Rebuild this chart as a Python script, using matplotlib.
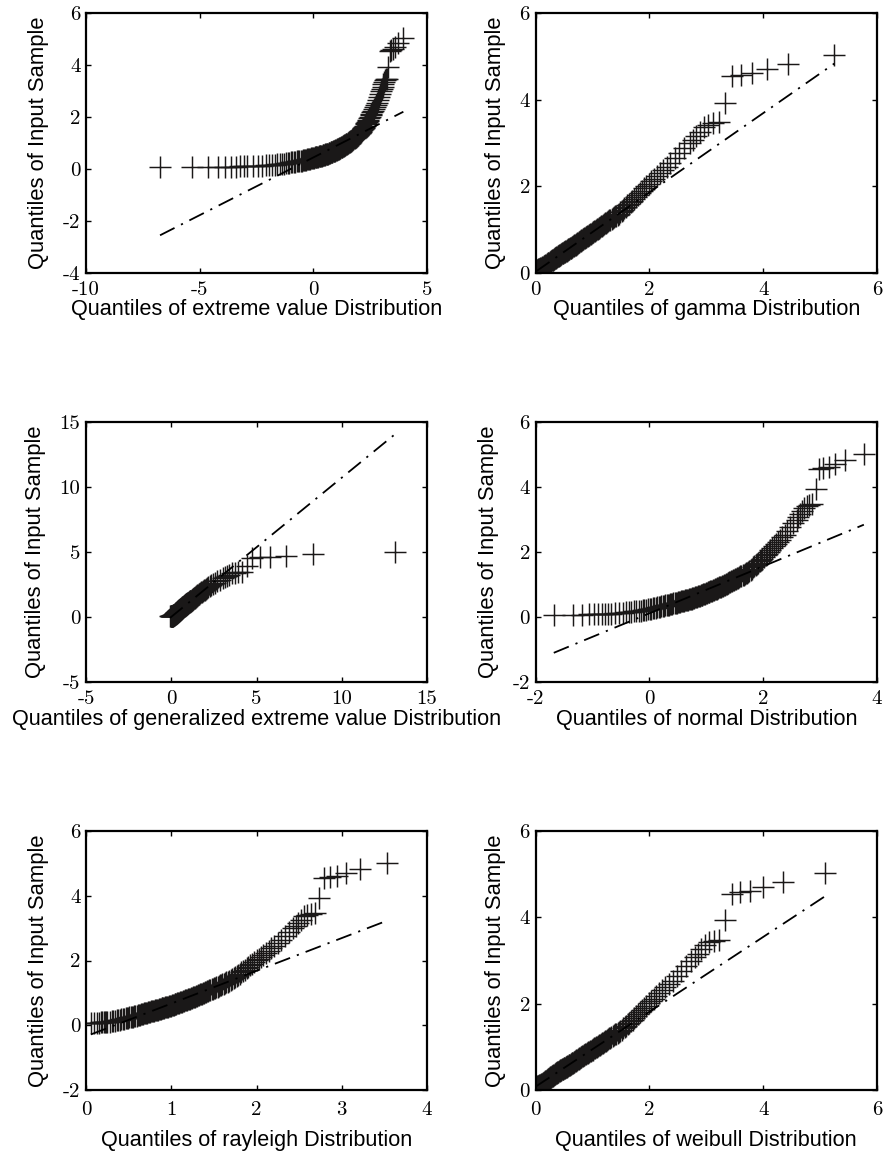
import numpy as np
import matplotlib
matplotlib.use('Agg')
import matplotlib.pyplot as plt

plt.rcParams['axes.unicode_minus'] = False

# rank (of 300 sorted values) of each plotted point
rank = list(range(1, 11)) + list(range(12, 287, 2)) + list(range(287, 301))

# sorted input sample
sample = [0.06, 0.07, 0.075, 0.08, 0.085, 0.09, 0.095, 0.10, 0.102, 0.105,
          0.112, 0.12, 0.13, 0.14, 0.15, 0.16, 0.17, 0.18, 0.19, 0.20,
          0.21, 0.22, 0.23, 0.24, 0.25, 0.26, 0.27, 0.28, 0.29, 0.30,
          0.308, 0.315, 0.325, 0.335, 0.345, 0.355, 0.364, 0.373, 0.383, 0.392,
          0.401, 0.41, 0.418, 0.426, 0.435, 0.444, 0.453, 0.461, 0.469, 0.477,
          0.486, 0.494, 0.502, 0.510, 0.519, 0.527, 0.536, 0.544, 0.552, 0.560,
          0.568, 0.577, 0.587, 0.596, 0.607, 0.617, 0.627, 0.637, 0.647, 0.657,
          0.668, 0.678, 0.689, 0.699, 0.710, 0.721, 0.732, 0.743, 0.754, 0.765,
          0.777, 0.788, 0.800, 0.812, 0.824, 0.835, 0.848, 0.860, 0.873, 0.885,
          0.898, 0.910, 0.924, 0.937, 0.950, 0.963, 0.977, 0.991, 1.006, 1.020,
          1.035, 1.049, 1.064, 1.079, 1.095, 1.111, 1.127, 1.143, 1.160, 1.177,
          1.195, 1.212, 1.231, 1.249, 1.268, 1.287, 1.307, 1.326, 1.347, 1.368,
          1.398, 1.428, 1.460, 1.491, 1.525, 1.559, 1.594, 1.630, 1.673, 1.716,
          1.757, 1.798, 1.848, 1.898, 1.952, 2.006, 2.060, 2.115, 2.176, 2.237,
          2.306, 2.375, 2.455, 2.535, 2.645, 2.76, 2.88, 3.00,
          3.08, 3.16, 3.26, 3.36, 3.42, 3.45, 3.48, 3.93, 4.55, 4.58, 4.62, 4.70, 4.83, 5.02]

# theoretical quantiles for each distribution
x_ev = [-6.743, -5.316, -4.651, -4.212, -3.884, -3.622, -3.403, -3.215, -3.051, -2.904,
        -2.652, -2.439, -2.256, -2.094, -1.949, -1.818, -1.698, -1.587, -1.485, -1.389,
        -1.299, -1.215, -1.134, -1.058, -0.986, -0.918, -0.851, -0.788, -0.727, -0.669,
        -0.612, -0.558, -0.505, -0.453, -0.404, -0.356, -0.310, -0.264, -0.220, -0.177,
        -0.135, -0.093, -0.053, -0.014, 0.025, 0.063, 0.100, 0.137, 0.172, 0.207,
        0.241, 0.275, 0.309, 0.342, 0.374, 0.406, 0.438, 0.469, 0.500, 0.530,
        0.559, 0.588, 0.617, 0.646, 0.675, 0.703, 0.731, 0.758, 0.785, 0.812,
        0.839, 0.866, 0.893, 0.919, 0.945, 0.971, 0.996, 1.021, 1.047, 1.072,
        1.097, 1.121, 1.146, 1.170, 1.194, 1.218, 1.243, 1.268, 1.292, 1.316,
        1.339, 1.362, 1.386, 1.410, 1.434, 1.457, 1.481, 1.505, 1.529, 1.552,
        1.575, 1.598, 1.622, 1.645, 1.669, 1.693, 1.717, 1.740, 1.764, 1.788,
        1.812, 1.836, 1.860, 1.884, 1.909, 1.933, 1.958, 1.982, 2.008, 2.033,
        2.059, 2.085, 2.111, 2.137, 2.164, 2.190, 2.218, 2.246, 2.275, 2.303,
        2.332, 2.361, 2.392, 2.422, 2.454, 2.486, 2.520, 2.553, 2.590, 2.626,
        2.665, 2.703, 2.746, 2.788, 2.835, 2.882, 2.936, 2.990,
        3.021, 3.052, 3.086, 3.122, 3.160, 3.201, 3.246, 3.295, 3.351, 3.414, 3.489, 3.584, 3.715, 3.960]

x_gamma = [0.012, 0.024, 0.034, 0.043, 0.051, 0.058, 0.065, 0.071, 0.079, 0.087,
           0.099, 0.111, 0.122, 0.133, 0.143, 0.152, 0.164, 0.175, 0.186, 0.196,
           0.207, 0.217, 0.228, 0.238, 0.248, 0.258, 0.269, 0.279, 0.289, 0.299,
           0.309, 0.318, 0.328, 0.338, 0.348, 0.357, 0.367, 0.377, 0.387, 0.397,
           0.407, 0.416, 0.426, 0.435, 0.445, 0.455, 0.465, 0.475, 0.485, 0.495,
           0.505, 0.515, 0.525, 0.535, 0.545, 0.555, 0.565, 0.575, 0.586, 0.596,
           0.607, 0.617, 0.628, 0.638, 0.649, 0.660, 0.671, 0.681, 0.692, 0.703,
           0.714, 0.725, 0.737, 0.748, 0.760, 0.771, 0.783, 0.794, 0.807, 0.819,
           0.831, 0.843, 0.856, 0.868, 0.881, 0.893, 0.906, 0.919, 0.933, 0.946,
           0.960, 0.974, 0.988, 1.002, 1.016, 1.030, 1.045, 1.059, 1.075, 1.091,
           1.107, 1.122, 1.138, 1.154, 1.171, 1.188, 1.206, 1.223, 1.241, 1.259,
           1.278, 1.296, 1.316, 1.336, 1.356, 1.376, 1.397, 1.418, 1.441, 1.464,
           1.488, 1.511, 1.536, 1.561, 1.589, 1.616, 1.644, 1.672, 1.703, 1.733,
           1.766, 1.798, 1.834, 1.870, 1.909, 1.948, 1.991, 2.034, 2.083, 2.131,
           2.186, 2.241, 2.305, 2.369, 2.445, 2.521, 2.615, 2.708,
           2.766, 2.824, 2.889, 2.958, 3.035, 3.121, 3.217, 3.326, 3.457, 3.610, 3.805, 4.063, 4.44, 5.25]

x_gev = [-0.070, -0.028, -0.004, 0.014, 0.029, 0.041, 0.052, 0.062, 0.071, 0.080,
         0.095, 0.110, 0.123, 0.135, 0.147, 0.158, 0.168, 0.178, 0.188, 0.198,
         0.207, 0.216, 0.225, 0.233, 0.242, 0.250, 0.258, 0.266, 0.274, 0.282,
         0.290, 0.298, 0.306, 0.313, 0.321, 0.328, 0.336, 0.344, 0.352, 0.359,
         0.367, 0.374, 0.382, 0.389, 0.397, 0.404, 0.412, 0.419, 0.427, 0.434,
         0.442, 0.449, 0.457, 0.464, 0.472, 0.480, 0.488, 0.496, 0.504, 0.511,
         0.520, 0.528, 0.536, 0.544, 0.553, 0.561, 0.570, 0.578, 0.587, 0.595,
         0.604, 0.612, 0.621, 0.630, 0.640, 0.649, 0.659, 0.668, 0.678, 0.687,
         0.697, 0.707, 0.717, 0.727, 0.738, 0.748, 0.759, 0.770, 0.781, 0.792,
         0.804, 0.816, 0.828, 0.840, 0.852, 0.864, 0.877, 0.890, 0.904, 0.917,
         0.931, 0.945, 0.960, 0.975, 0.990, 1.006, 1.022, 1.038, 1.055, 1.072,
         1.090, 1.109, 1.128, 1.147, 1.167, 1.188, 1.209, 1.231, 1.254, 1.277,
         1.302, 1.327, 1.354, 1.381, 1.410, 1.440, 1.472, 1.504, 1.538, 1.575,
         1.613, 1.654, 1.696, 1.742, 1.790, 1.842, 1.896, 1.956, 2.020, 2.091,
         2.168, 2.252, 2.346, 2.450, 2.568, 2.703, 2.859, 3.044,
         3.150, 3.268, 3.399, 3.547, 3.716, 3.911, 4.140, 4.418, 4.760, 5.202, 5.806, 6.711, 8.334, 13.132]

x_norm = [-1.679, -1.345, -1.177, -1.060, -0.969, -0.895, -0.830, -0.774, -0.724, -0.678,
          -0.598, -0.528, -0.467, -0.411, -0.360, -0.314, -0.270, -0.228, -0.190, -0.153,
          -0.119, -0.085, -0.053, -0.022, 0.006, 0.035, 0.062, 0.090, 0.116, 0.141,
          0.165, 0.189, 0.212, 0.236, 0.258, 0.280, 0.302, 0.323, 0.344, 0.365,
          0.385, 0.405, 0.424, 0.443, 0.462, 0.481, 0.500, 0.518, 0.536, 0.554,
          0.572, 0.589, 0.607, 0.624, 0.641, 0.658, 0.675, 0.691, 0.708, 0.725,
          0.741, 0.757, 0.774, 0.790, 0.806, 0.822, 0.838, 0.854, 0.870, 0.885,
          0.901, 0.917, 0.933, 0.948, 0.964, 0.979, 0.995, 1.010, 1.026, 1.041,
          1.057, 1.072, 1.088, 1.103, 1.119, 1.134, 1.150, 1.166, 1.182, 1.197,
          1.213, 1.229, 1.245, 1.260, 1.276, 1.292, 1.308, 1.324, 1.341, 1.358,
          1.374, 1.390, 1.407, 1.424, 1.441, 1.458, 1.475, 1.492, 1.510, 1.528,
          1.546, 1.563, 1.582, 1.600, 1.619, 1.637, 1.656, 1.675, 1.695, 1.715,
          1.736, 1.756, 1.778, 1.799, 1.821, 1.843, 1.866, 1.889, 1.913, 1.937,
          1.962, 1.987, 2.014, 2.041, 2.069, 2.097, 2.128, 2.159, 2.192, 2.225,
          2.262, 2.299, 2.339, 2.381, 2.427, 2.475, 2.528, 2.586,
          2.618, 2.652, 2.688, 2.726, 2.768, 2.814, 2.864, 2.920, 2.985, 3.059, 3.150, 3.267, 3.435, 3.769]

x_rayl = [0.057, 0.099, 0.128, 0.151, 0.172, 0.190, 0.207, 0.222, 0.237, 0.250,
          0.276, 0.300, 0.322, 0.342, 0.362, 0.381, 0.399, 0.416, 0.433, 0.449,
          0.465, 0.480, 0.495, 0.510, 0.525, 0.539, 0.553, 0.566, 0.580, 0.593,
          0.606, 0.619, 0.632, 0.644, 0.657, 0.669, 0.681, 0.693, 0.705, 0.717,
          0.729, 0.740, 0.752, 0.763, 0.775, 0.786, 0.798, 0.809, 0.820, 0.831,
          0.842, 0.853, 0.864, 0.875, 0.886, 0.897, 0.908, 0.919, 0.930, 0.941,
          0.952, 0.962, 0.973, 0.984, 0.995, 1.006, 1.017, 1.028, 1.039, 1.049,
          1.060, 1.071, 1.082, 1.093, 1.104, 1.115, 1.126, 1.137, 1.148, 1.159,
          1.171, 1.182, 1.193, 1.204, 1.216, 1.227, 1.239, 1.250, 1.262, 1.274,
          1.286, 1.297, 1.309, 1.321, 1.333, 1.345, 1.358, 1.370, 1.383, 1.395,
          1.408, 1.421, 1.434, 1.447, 1.460, 1.473, 1.487, 1.500, 1.514, 1.528,
          1.543, 1.557, 1.572, 1.586, 1.601, 1.616, 1.632, 1.648, 1.664, 1.680,
          1.697, 1.713, 1.731, 1.748, 1.767, 1.785, 1.804, 1.823, 1.844, 1.864,
          1.885, 1.906, 1.929, 1.952, 1.976, 2.000, 2.027, 2.053, 2.082, 2.111,
          2.142, 2.175, 2.210, 2.247, 2.287, 2.330, 2.377, 2.430,
          2.458, 2.489, 2.521, 2.556, 2.594, 2.635, 2.681, 2.733, 2.792, 2.861, 2.945, 3.055, 3.213, 3.531]

x_weib = [0.006, 0.014, 0.021, 0.028, 0.034, 0.041, 0.047, 0.053, 0.058, 0.064,
          0.075, 0.086, 0.097, 0.108, 0.118, 0.128, 0.139, 0.149, 0.159, 0.169,
          0.178, 0.188, 0.198, 0.208, 0.217, 0.227, 0.237, 0.247, 0.257, 0.267,
          0.276, 0.286, 0.296, 0.306, 0.315, 0.325, 0.335, 0.345, 0.354, 0.364,
          0.374, 0.385, 0.394, 0.404, 0.414, 0.425, 0.435, 0.445, 0.455, 0.466,
          0.476, 0.486, 0.496, 0.507, 0.518, 0.529, 0.539, 0.550, 0.561, 0.572,
          0.582, 0.593, 0.604, 0.616, 0.627, 0.639, 0.650, 0.661, 0.672, 0.684,
          0.696, 0.708, 0.720, 0.732, 0.744, 0.757, 0.769, 0.782, 0.795, 0.808,
          0.820, 0.833, 0.846, 0.860, 0.873, 0.887, 0.901, 0.915, 0.929, 0.943,
          0.957, 0.972, 0.987, 1.002, 1.017, 1.032, 1.048, 1.064, 1.080, 1.096,
          1.112, 1.129, 1.146, 1.164, 1.181, 1.199, 1.217, 1.236, 1.255, 1.275,
          1.294, 1.313, 1.334, 1.355, 1.376, 1.397, 1.419, 1.441, 1.465, 1.490,
          1.515, 1.540, 1.565, 1.591, 1.618, 1.646, 1.675, 1.705, 1.736, 1.768,
          1.802, 1.836, 1.871, 1.907, 1.947, 1.987, 2.030, 2.074, 2.123, 2.172,
          2.227, 2.283, 2.342, 2.408, 2.479, 2.559, 2.644, 2.739,
          2.794, 2.851, 2.911, 2.979, 3.051, 3.135, 3.224, 3.325, 3.447, 3.588, 3.764, 4.001, 4.347, 5.082]

dist_names = ['extreme value', 'gamma', 'generalized extreme value',
              'normal', 'rayleigh', 'weibull']
x_data = [x_ev, x_gamma, x_gev, x_norm, x_rayl, x_weib]
x_ticks = [[-10, -5, 0, 5], [0, 2, 4, 6], [-5, 0, 5, 10, 15],
           [-2, 0, 2, 4], [0, 1, 2, 3, 4], [0, 2, 4, 6]]
y_ticks = [[-4, -2, 0, 2, 4, 6], [0, 2, 4, 6], [-5, 0, 5, 10, 15],
           [-2, 0, 2, 4, 6], [-2, 0, 2, 4, 6], [0, 2, 4, 6]]

W, H = 886, 1153
fig = plt.figure(figsize=(W / 100, H / 100), dpi=100)

# axes boxes in pixels
col_px = [(86, 427), (535.5, 877)]
row_px = [(13, 273), (422, 682), (831, 1090)]
# gap under each row for tick labels and axis label
tick_pad = [5.5, 5.5, 8.0]
label_pad = [0.3, 1.0, 8.0]

ink = '#1a1818'
y = np.array(sample)
for k in range(6):
    r, c = divmod(k, 2)
    l, rr = col_px[c]
    t, b = row_px[r]
    ax = fig.add_axes([l / W, 1 - b / H, (rr - l) / W, (b - t) / H])
    x = np.array(x_data[k])

    ax.plot(x, y, '+', ms=16.5, mew=1.05, color=ink, zorder=2)

    # reference line through the first and third quartiles
    q1x, q3x = np.interp([75.5, 225.5], rank, x)
    q1y, q3y = np.interp([75.5, 225.5], rank, y)
    slope = (q3y - q1y) / (q3x - q1x)
    xs = np.array([x.min(), x.max()])
    ax.plot(xs, q1y + slope * (xs - q1x), color='black', lw=1.3,
            dashes=(9, 4, 1.2, 4), zorder=3)

    ax.set_xlim(x_ticks[k][0], x_ticks[k][-1])
    ax.set_ylim(y_ticks[k][0], y_ticks[k][-1])
    ax.set_xticks(x_ticks[k])
    ax.set_yticks(y_ticks[k])
    ax.tick_params(direction='in', length=3.5, width=1, top=True, right=True,
                   labelsize=15, pad=4)
    ax.tick_params(axis='x', pad=tick_pad[r])
    for lab in ax.get_xticklabels() + ax.get_yticklabels():
        lab.set_fontfamily('cmr10')
    for sp in ax.spines.values():
        sp.set_linewidth(1.6)

    ax.set_xlabel('Quantiles of %s Distribution' % dist_names[k],
                  family='Liberation Sans', fontsize=15.6, labelpad=label_pad[r])
    ax.set_ylabel('Quantiles of Input Sample', family='Liberation Sans',
                  fontsize=15.8, labelpad=10)

fig.savefig('out.png', dpi=100)
